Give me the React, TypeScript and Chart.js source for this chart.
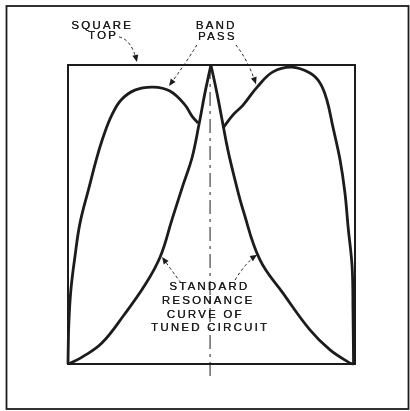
import React, { useEffect, useRef } from "react";
import { Chart, registerables } from "chart.js";

Chart.register(...registerables);

// Frequency axis: 0..100 across the square, response axis: 0..100 (relative)
const resonanceLeftX = [0.3, 4.9, 11.8, 19.5, 26.8, 32.1, 36.2, 40.1, 43.2, 45.6, 47.7, 49.8];
const resonanceLeftY = [0, 2.3, 7.0, 16.4, 26.4, 35.8, 48.2, 59.9, 68.9, 79.9, 90.6, 100];
const resonanceRightX = [49.8, 51.9, 53.7, 55.7, 58.2, 61.0, 66.9, 74.9, 84.3, 91.3, 98.3, 99.7];
const resonanceRightY = [100, 90.6, 81.6, 71.6, 61.5, 51.5, 34.8, 23.7, 11.4, 4.7, 0.3, 0];

const bandLeftX = [0, 0.1, 0.3, 1.0, 2.4, 4.2, 7.3, 10.1, 12.5, 15.3, 18.5, 23.3, 29.6, 35.5, 40.8, 43.2, 45.3];
const bandLeftY = [0, 6.4, 13.7, 24.7, 35.8, 47.2, 58.9, 69.2, 76.6, 83.3, 88.3, 91.6, 92.6, 91.3, 86.6, 82.9, 80.6];
const bandRightX = [54.0, 57.5, 61.0, 65.9, 71.4, 78.0, 84.3, 87.8, 90.2, 92.3, 94.8, 96.5, 97.6, 99.0, 99.3, 99.5];
const bandRightY = [78.9, 83.3, 86.6, 92.6, 97.7, 99.3, 97.3, 94.0, 88.3, 79.3, 68.2, 57.2, 45.8, 32.4, 18.1, 0];

const squareTop = 100;
const squareBottom = 0;
const centerFrequency = 49.5;

const labelTexts = ["SQUARE", "TOP", "BAND", "PASS", "STANDARD", "RESONANCE", "CURVE OF", "TUNED CIRCUIT"];

const pts = (xs: number[], ys: number[]) => xs.map((x, i) => ({ x, y: ys[i] }));

const INK = "#1c1c1c";

// annotation anchors (data coordinates)
const labelAnchors = [
  [11.5, 113.0],
  [11.8, 109.7],
  [51.2, 113.0],
  [51.6, 109.4],
  [48.8, 25.8],
  [48.4, 21.1],
  [47.4, 16.4],
  [49.1, 12.0],
];
const arrowPaths = [
  [[17.8, 109.4], [22.3, 108.4], [24.0, 101.0]],
  [[44.9, 106.7], [41.1, 100.7], [35.2, 93.0]],
  [[58.5, 106.7], [62.7, 101.7], [65.5, 93.6]],
  [[39.4, 27.1], [35.5, 32.1], [32.8, 35.8]],
  [[58.2, 28.1], [62.0, 34.1], [65.9, 36.5]],
];

const decorPlugin = {
  id: "decor",
  beforeDatasetsDraw(chart: any) {
    const { ctx, chartArea, scales } = chart;
    const X = (v: number) => scales.x.getPixelForValue(v);
    const Y = (v: number) => scales.y.getPixelForValue(v);
    ctx.save();
    // outer frame
    ctx.strokeStyle = INK;
    ctx.lineWidth = 1.8;
    ctx.strokeRect(6.5, 6, 402, 403);
    // square
    ctx.lineWidth = 2;
    ctx.strokeRect(chartArea.left, chartArea.top, chartArea.right - chartArea.left, chartArea.bottom - chartArea.top);
    // center dash-dot line
    ctx.lineWidth = 1;
    ctx.setLineDash([14, 5, 3, 5]);
    ctx.beginPath();
    ctx.moveTo(X(centerFrequency), Y(squareTop));
    ctx.lineTo(X(centerFrequency), Y(squareBottom - 4));
    ctx.stroke();
    // arrows
    ctx.lineWidth = 1;
    arrowPaths.forEach((p) => {
      const [t, c, h] = p;
      const tx = X(t[0]), ty = Y(t[1]);
      const cx = X(c[0]), cy = Y(c[1]);
      const hx = X(h[0]), hy = Y(h[1]);
      ctx.setLineDash([3, 2.5]);
      ctx.beginPath();
      ctx.moveTo(tx, ty);
      ctx.quadraticCurveTo(cx, cy, hx, hy);
      ctx.stroke();
      ctx.setLineDash([]);
      const ang = Math.atan2(hy - cy, hx - cx);
      const L = 7, W = 3;
      ctx.fillStyle = INK;
      ctx.beginPath();
      ctx.moveTo(hx, hy);
      ctx.lineTo(hx - L * Math.cos(ang) + W * Math.sin(ang), hy - L * Math.sin(ang) - W * Math.cos(ang));
      ctx.lineTo(hx - L * Math.cos(ang) - W * Math.sin(ang), hy - L * Math.sin(ang) + W * Math.cos(ang));
      ctx.closePath();
      ctx.fill();
    });
    // labels
    ctx.setLineDash([]);
    ctx.fillStyle = INK;
    ctx.font = "11.5px 'Liberation Sans', Arial, sans-serif";
    (ctx as any).letterSpacing = "2.2px";
    ctx.textAlign = "center";
    ctx.textBaseline = "middle";
    labelTexts.forEach((t, i) => {
      const x = X(labelAnchors[i][0]) + 1.1;
      const y = Y(labelAnchors[i][1]);
      ctx.fillText(t, x, y);
      ctx.fillText(t, x + 0.35, y);
    });
    ctx.restore();
  },
};

export default function App() {
  const ref = useRef<HTMLCanvasElement | null>(null);
  useEffect(() => {
    document.body.style.margin = "0";
    document.body.style.background = "#fff";
    if (!ref.current) return;
    const line = (data: any[]) => ({
      data,
      showLine: true,
      borderColor: INK,
      borderWidth: 2.8,
      pointRadius: 0,
      fill: false,
      tension: 0.4,
      clip: false as any,
    });
    const chart = new Chart(ref.current, {
      type: "scatter",
      data: {
        datasets: [
          { label: "Band pass (left)", ...line(pts(bandLeftX, bandLeftY)) },
          { label: "Band pass (right)", ...line(pts(bandRightX, bandRightY)) },
          { label: "Resonance (left)", ...line(pts(resonanceLeftX, resonanceLeftY)) },
          { label: "Resonance (right)", ...line(pts(resonanceRightX, resonanceRightY)) },
        ],
      },
      options: {
        responsive: false,
        animation: false,
        layout: { padding: { left: 68, right: 55, top: 65, bottom: 47 } },
        scales: {
          x: { type: "linear", min: 0, max: 100, display: false },
          y: { type: "linear", min: 0, max: 100, display: false },
        },
        plugins: { legend: { display: false }, tooltip: { enabled: false } },
      },
      plugins: [decorPlugin],
    });
    return () => chart.destroy();
  }, []);
  return (
    <div style={{ position: "absolute", left: 0, top: 0, width: 410, height: 411, background: "#fff" }}>
      <canvas ref={ref} width={410} height={411} style={{ display: "block" }} />
    </div>
  );
}
